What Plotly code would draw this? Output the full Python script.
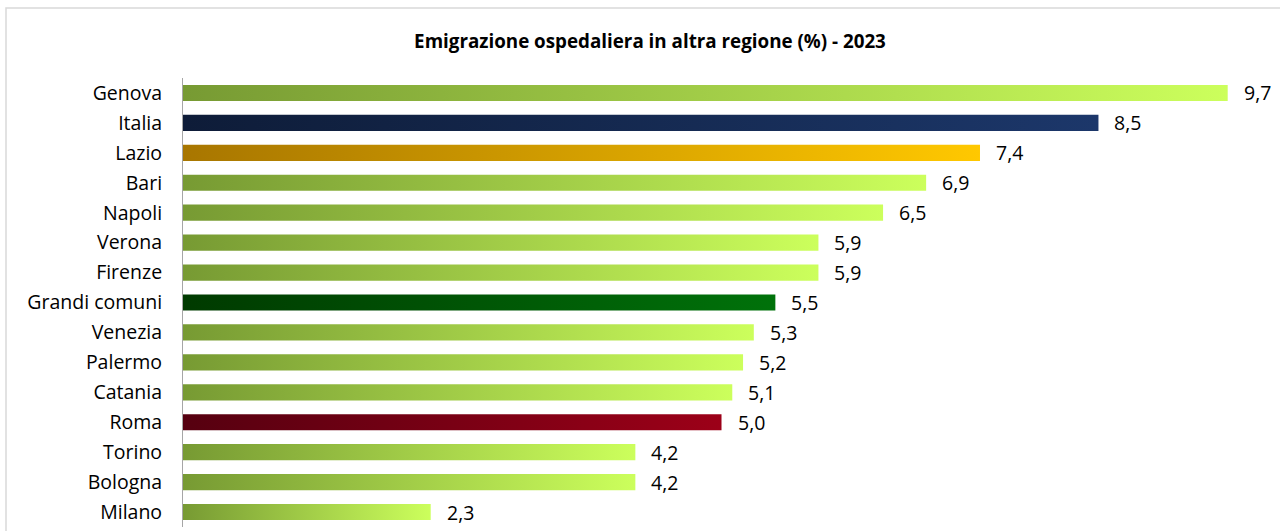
import plotly.graph_objects as go

# Emigrazione ospedaliera in altra regione (%) - 2023
categorie = ["Genova", "Italia", "Lazio", "Bari", "Napoli", "Verona", "Firenze",
             "Grandi comuni", "Venezia", "Palermo", "Catania", "Roma", "Torino",
             "Bologna", "Milano"]
valori = [9.7, 8.5, 7.4, 6.9, 6.5, 5.9, 5.9, 5.5, 5.3, 5.2, 5.1, 5.0, 4.2, 4.2, 2.3]

# gradient (left -> right) per bar
GRADIENTE_CITTA = ("#779a33", "#ccff5c")
gradienti_speciali = {
    "Italia": ("#0e1c38", "#1c376a"),
    "Lazio": ("#a87600", "#ffc800"),
    "Grandi comuni": ("#003a00", "#00720a"),
    "Roma": ("#560010", "#9c0018"),
}

FONT = "'Open Sans', 'Noto Sans', sans-serif"
MEZZA_ALTEZZA = 0.27

fig = go.Figure()
for i, (nome, v) in enumerate(zip(categorie, valori)):
    c0, c1 = gradienti_speciali.get(nome, GRADIENTE_CITTA)
    fig.add_trace(go.Scatter(
        x=[0, v, v, 0, 0],
        y=[i - MEZZA_ALTEZZA, i - MEZZA_ALTEZZA, i + MEZZA_ALTEZZA, i + MEZZA_ALTEZZA, i - MEZZA_ALTEZZA],
        mode="lines",
        fill="toself",
        line=dict(width=0),
        fillgradient=dict(type="horizontal", colorscale=[[0, c0], [1, c1]], start=0, stop=v),
        hoverinfo="skip",
        showlegend=False,
    ))
    fig.add_annotation(
        x=v, y=i, text=f"{v:.1f}".replace(".", ","),
        xanchor="left", yanchor="middle", xshift=14, showarrow=False,
        font=dict(family=FONT, size=19.5, color="#000000"),
    )

fig.update_layout(
    width=1280, height=531,
    margin=dict(l=183, r=2, t=78, b=4),
    paper_bgcolor="white", plot_bgcolor="white",
    title=dict(
        text="<b>Emigrazione ospedaliera in altra regione (%) - 2023</b>",
        x=650 / 1280, xanchor="center", y=0.922, yanchor="middle",
        font=dict(family=FONT, size=18.8, color="#000000"),
    ),
    xaxis=dict(range=[0, 10.167], showgrid=False, zeroline=False, showticklabels=False,
               showline=False, fixedrange=True),
    yaxis=dict(range=[14.5, -0.5], tickmode="array", tickvals=list(range(len(categorie))),
               ticktext=categorie, showgrid=False, zeroline=False, ticks="",
               showline=True, linecolor="#a6a6a6", linewidth=1, ticklabelstandoff=16,
               tickfont=dict(family=FONT, size=19.5, color="#000000")),
    shapes=[dict(type="rect", xref="paper", yref="paper", x0=-177 / 1095, x1=1.05,
                 y0=-0.2, y1=(531 - 8 - 4) / 449, line=dict(color="#d9d9d9", width=1.5),
                 fillcolor="rgba(0,0,0,0)", layer="below")],
)

fig.write_html("out.html")
